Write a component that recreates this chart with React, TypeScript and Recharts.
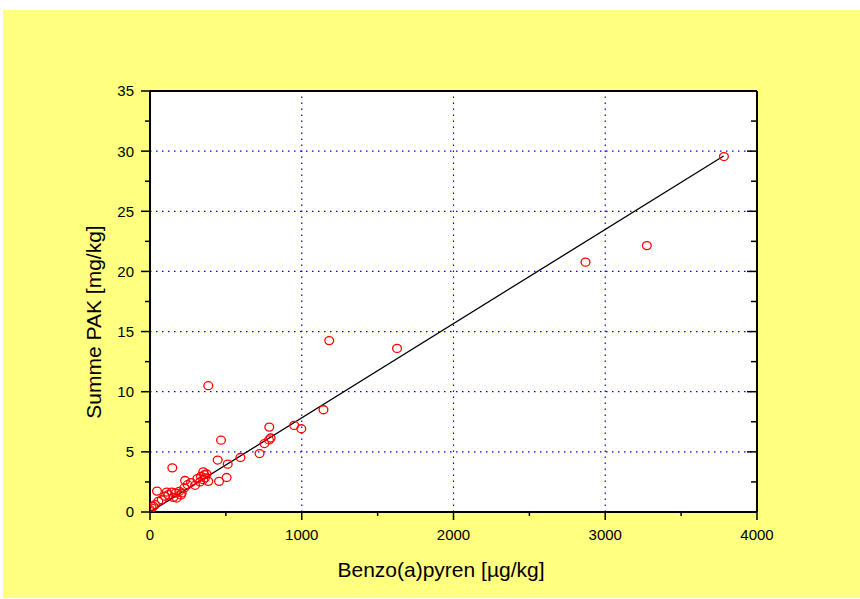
import React from 'react';
import { ScatterChart, Scatter, XAxis, YAxis, ReferenceLine, CartesianGrid } from 'recharts';

const benzoX = [3782, 3274, 2870, 1628, 1181, 384, 1143, 950, 997, 786, 795, 784, 754, 722, 596, 468, 446, 512, 505, 455, 351, 358, 373, 336, 362, 351, 312, 330, 384, 231, 270, 248, 297, 226, 193, 169, 143, 121, 99, 110, 46, 77, 55, 33, 11, 0, 22, 154, 176, 209, 147, 204];
const summeY = [29.55, 22.15, 20.77, 13.6, 14.25, 10.5, 8.5, 7.2, 6.92, 7.06, 6.15, 5.99, 5.69, 4.86, 4.53, 5.97, 4.32, 3.98, 2.87, 2.55, 3.34, 3.1, 3.16, 2.96, 2.83, 2.69, 2.77, 2.5, 2.55, 2.62, 2.45, 2.27, 2.22, 2.0, 1.72, 1.58, 1.66, 1.44, 1.31, 1.66, 1.74, 1.02, 0.89, 0.61, 0.33, 0.19, 0.47, 1.22, 1.16, 1.58, 3.67, 1.41];

const fitX = [0, 3780];
const fitY = [0, 29.6];

const xTicks = [0, 500, 1000, 1500, 2000, 2500, 3000, 3500, 4000];
const yTicks = [0, 2.5, 5, 7.5, 10, 12.5, 15, 17.5, 20, 22.5, 25, 27.5, 30, 32.5, 35];
const xGrid = [1000, 2000, 3000];
const yGrid = [5, 10, 15, 20, 25, 30];

const points = benzoX.map((x, i) => ({ x, y: summeY[i] }));

const FONT = '"Liberation Sans", Arial, sans-serif';
const GRID = '#0000ff';

const isMajorX = (v: number) => v % 1000 === 0;
const isMajorY = (v: number) => v % 5 === 0;

const BottomTick = (p: any) => {
  const v = p.payload.value;
  const major = isMajorX(v);
  return (
    <g>
      <line x1={p.x} y1={p.y} x2={p.x} y2={p.y + (major ? 8 : 4)} stroke="#000" strokeWidth={1.5} />
      {major && (
        <text x={p.x} y={p.y + 28} textAnchor="middle" fontSize={15} fontFamily={FONT} fill="#000">{v}</text>
      )}
    </g>
  );
};
const TopTick = (p: any) => {
  const major = isMajorX(p.payload.value);
  return <line x1={p.x} y1={p.y} x2={p.x} y2={p.y + (major ? 9 : 5)} stroke="#000" strokeWidth={1.5} />;
};
const LeftTick = (p: any) => {
  const v = p.payload.value;
  const major = isMajorY(v);
  return (
    <g>
      <line x1={p.x} y1={p.y} x2={p.x - (major ? 9 : 5)} y2={p.y} stroke="#000" strokeWidth={1.5} />
      {major && (
        <text x={p.x - 16} y={p.y} dy="0.36em" textAnchor="end" fontSize={15} fontFamily={FONT} fill="#000">{v}</text>
      )}
    </g>
  );
};
const RightTick = (p: any) => {
  const major = isMajorY(p.payload.value);
  return <line x1={p.x} y1={p.y} x2={p.x - (major ? 10 : 6)} y2={p.y} stroke="#000" strokeWidth={1.5} />;
};

const Circle = (p: any) => (
  <ellipse cx={p.cx} cy={p.cy} rx={4.4} ry={4} fill="none" stroke="#ff0000" strokeWidth={1.3} />
);

export default function App() {
  return (
    <div style={{ position: 'absolute', left: 0, top: 0, width: 860, height: 599, background: '#fff' }}>
      <div style={{ position: 'absolute', left: 3, top: 10, width: 857, height: 588, background: '#ffff80' }} />
      <div style={{ position: 'absolute', left: 0, top: 0 }}>
        <ScatterChart width={860} height={599} margin={{ top: 0, right: 0, bottom: 0, left: 0 }}>
          <CartesianGrid xAxisId="b" yAxisId="l" fill="#fff" horizontal={false} vertical={false} stroke="none" />
          <XAxis
            xAxisId="b" dataKey="x" type="number" orientation="bottom" domain={[0, 4000]} ticks={xTicks} interval={0}
            height={87} tickSize={0} tickMargin={0} tickLine={false} tick={<BottomTick />}
            axisLine={{ stroke: '#000', strokeWidth: 2 }} allowDataOverflow
            label={{
              content: () => (
                <text x={441} y={577} textAnchor="middle" fontSize={21} fontFamily={FONT} fill="#000">Benzo(a)pyren [µg/kg]</text>
              ),
            }}
          />
          <XAxis
            xAxisId="t" type="number" orientation="top" domain={[0, 4000]} ticks={xTicks} interval={0}
            height={91} tickSize={0} tickMargin={0} tickLine={false} tick={<TopTick />}
            axisLine={{ stroke: '#000', strokeWidth: 2 }} allowDataOverflow
          />
          <YAxis
            yAxisId="l" dataKey="y" type="number" orientation="left" domain={[0, 35]} ticks={yTicks} interval={0}
            width={150} tickSize={0} tickMargin={0} tickLine={false} tick={<LeftTick />}
            axisLine={{ stroke: '#000', strokeWidth: 2 }} allowDataOverflow
            label={{
              content: () => (
                <text x={93} y={322} transform="rotate(-90 93 322)" textAnchor="middle" dominantBaseline="central" fontSize={21} fontFamily={FONT} fill="#000">Summe PAK [mg/kg]</text>
              ),
            }}
          />
          <YAxis
            yAxisId="r" type="number" orientation="right" domain={[0, 35]} ticks={yTicks} interval={0}
            width={103} tickSize={0} tickMargin={0} tickLine={false} tick={<RightTick />}
            axisLine={{ stroke: '#000', strokeWidth: 2 }} allowDataOverflow
          />
          {xGrid.map((v) => (
            <ReferenceLine key={'gx' + v} xAxisId="b" yAxisId="l" x={v} stroke={GRID} strokeDasharray="1.5 4.5" strokeWidth={1.2} />
          ))}
          {yGrid.map((v) => (
            <ReferenceLine key={'gy' + v} xAxisId="b" yAxisId="l" y={v} stroke={GRID} strokeDasharray="1.5 4.5" strokeWidth={1.2} />
          ))}
          <Scatter xAxisId="b" yAxisId="l" data={points} shape={<Circle />} isAnimationActive={false} />
          <ReferenceLine
            xAxisId="b" yAxisId="l"
            segment={[{ x: fitX[0], y: fitY[0] }, { x: fitX[1], y: fitY[1] }]}
            stroke="#000" strokeWidth={1.3}
          />
        </ScatterChart>
      </div>
    </div>
  );
}
